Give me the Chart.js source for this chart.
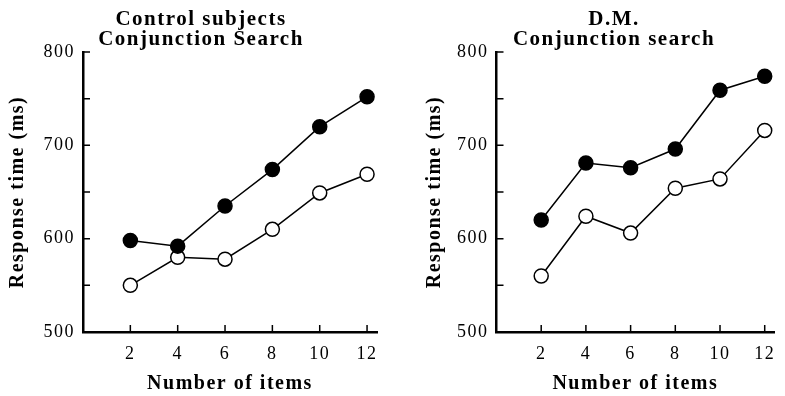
<!DOCTYPE html>
<html>
<head>
<meta charset="utf-8">
<script src="https://cdn.jsdelivr.net/npm/chart.js@4/dist/chart.umd.min.js"></script>
<style>
  html, body { margin: 0; padding: 0; background: #fff; overflow: hidden; }
  .panel { position: absolute; top: 0; }
  #left { left: 0; }
  #right { left: 400px; }
</style>
</head>
<body>
<div class="panel" id="left"><canvas id="c1" width="400" height="396"></canvas></div>
<div class="panel" id="right"><canvas id="c2" width="385" height="396"></canvas></div>
<script>
// Number of items on the x axis
const setSizes = [2, 4, 6, 8, 10, 12];
// y ticks every 50 ms, only the hundreds get a label
const yTicks = [500, 550, 600, 650, 700, 750, 800];
const yLabels = [500, 600, 700, 800];

// Control subjects, conjunction search (ms)
const controlFilled = [598, 592, 635, 674, 720, 752];
const controlOpen = [550, 580, 578, 610, 649, 669];

// D.M., conjunction search (ms)
const dmFilled = [620, 681, 676, 696, 759, 774];
const dmOpen = [560, 624, 606, 654, 664, 716];

const serif = "'Liberation Serif', 'Times New Roman', serif";

// the old printed figure has wide spacing between letters
const spacing = {
  id: "spacing",
  beforeDraw(chart) { chart.ctx.letterSpacing = "1.5px"; }
};

// short tick marks pointing into the plot
const tickMarks = {
  id: "tickMarks",
  beforeDatasetsDraw(chart) {
    const { ctx, chartArea: a, scales: { x, y } } = chart;
    ctx.save();
    ctx.strokeStyle = "#000";
    ctx.lineWidth = 1.5;
    ctx.beginPath();
    y.ticks.forEach(t => {
      const py = y.getPixelForValue(t.value);
      ctx.moveTo(a.left, py);
      ctx.lineTo(a.left + 7, py);
    });
    x.ticks.forEach(t => {
      const px = x.getPixelForValue(t.value);
      ctx.moveTo(px, a.bottom);
      ctx.lineTo(px, a.bottom - 7);
    });
    ctx.stroke();
    ctx.restore();
  }
};

// two-line heading, centred where the printed one sits
const panelTitle = {
  id: "panelTitle",
  afterDraw(chart, args, opts) {
    const ctx = chart.ctx;
    ctx.save();
    ctx.font = "bold 21px " + serif;
    ctx.letterSpacing = "1.5px";
    ctx.fillStyle = "#000";
    ctx.textAlign = "center";
    ctx.textBaseline = "alphabetic";
    opts.lines.forEach((s, i) => ctx.fillText(s, opts.x, 25 + i * 20));
    ctx.restore();
  }
};

function points(values) {
  return values.map((v, i) => ({ x: setSizes[i], y: v }));
}

function series(values, fill) {
  return {
    data: points(values),
    borderColor: "#000",
    borderWidth: 1.5,
    pointRadius: 7,
    pointHoverRadius: 7,
    pointBorderWidth: 1.5,
    pointBorderColor: "#000",
    pointBackgroundColor: fill,
    tension: 0
  };
}

function makePanel(id, filled, open, title, axisWidth, titleOffset, rightPad) {
  new Chart(document.getElementById(id), {
    type: "line",
    data: { datasets: [series(filled, "#000"), series(open, "#fff")] },
    options: {
      responsive: false,
      animation: false,
      layout: { padding: { top: 52, right: rightPad, left: 0, bottom: 0 } },
      plugins: {
        legend: { display: false },
        tooltip: { enabled: false },
        panelTitle: title
      },
      scales: {
        x: {
          type: "linear",
          min: 0,
          max: 12.42,
          afterBuildTicks: s => { s.ticks = setSizes.map(v => ({ value: v })); },
          afterFit: s => { s.height = 64; },
          grid: { display: false, drawTicks: false },
          border: { display: true, color: "#000", width: 2.5 },
          ticks: {
            autoSkip: false,
            maxRotation: 0,
            padding: 11,
            color: "#000",
            font: { family: serif, size: 18 }
          },
          title: {
            display: true,
            text: "Number of items",
            color: "#000",
            font: { family: serif, size: 20, weight: "bold" },
            padding: { top: 0, bottom: 0 }
          }
        },
        y: {
          min: 500,
          max: 800,
          afterBuildTicks: s => { s.ticks = yTicks.map(v => ({ value: v })); },
          afterFit: s => { s.width = axisWidth; },
          grid: { display: false, drawTicks: false },
          border: { display: true, color: "#000", width: 2.5 },
          ticks: {
            autoSkip: false,
            padding: 8,
            color: "#000",
            font: { family: serif, size: 18 },
            callback: v => (yLabels.includes(v) ? v : "")
          },
          title: {
            display: true,
            text: "Response time (ms)",
            color: "#000",
            font: { family: serif, size: 20, weight: "bold" },
            padding: { top: titleOffset, bottom: 0 }
          }
        }
      }
    },
    plugins: [spacing, tickMarks, panelTitle]
  });
}

makePanel("c1", controlFilled, controlOpen,
  { lines: ["Control subjects", "Conjunction Search"], x: 201 }, 83, 6, 23);
makePanel("c2", dmFilled, dmOpen,
  { lines: ["D.M.", "Conjunction search"], x: 214 }, 96.5, 23, 0);
</script>
</body>
</html>
